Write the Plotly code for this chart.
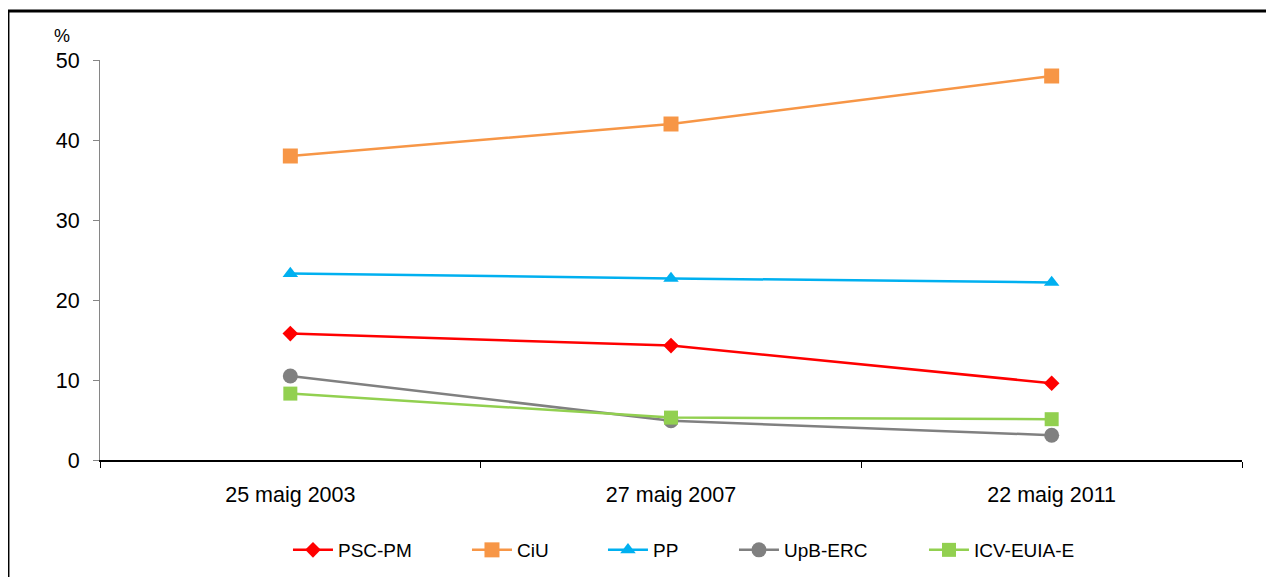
import plotly.graph_objects as go

categories = ["25 maig 2003", "27 maig 2007", "22 maig 2011"]
psc_pm = [15.8, 14.3, 9.6]
ciu = [38.0, 42.0, 48.0]
pp = [23.3, 22.7, 22.2]
upb_erc = [10.5, 4.9, 3.1]
icv_euia = [8.3, 5.3, 5.1]

# name, values, colour, symbol, marker size, legend entry width
series = [
    ("PSC-PM", psc_pm, "#FF0000", "diamond", 12, 124),
    ("CiU", ciu, "#F79646", "square", 15, 81),
    ("PP", pp, "#00B0F0", "triangle-up", 13.5, 76),
    ("UpB-ERC", upb_erc, "#808080", "circle", 15, 135),
    ("ICV-EUIA-E", icv_euia, "#92D050", "square", 14, None),
]

fig = go.Figure()
for name, vals, color, sym, size, lw in series:
    kw = {}
    if lw is not None:
        kw["legendwidth"] = lw
    fig.add_trace(go.Scatter(
        x=categories, y=vals, name=name, mode="lines+markers",
        line=dict(color=color, width=2.5),
        marker=dict(symbol=sym, size=size, color=color, line=dict(width=0)),
        **kw,
    ))

font_family = "Liberation Sans, Arial, sans-serif"
fig.update_layout(
    width=1266, height=569,
    margin=dict(l=92, r=32, t=52, b=117, autoexpand=False),
    paper_bgcolor="white", plot_bgcolor="white",
    font=dict(family=font_family, size=21, color="black"),
    showlegend=True,
    legend=dict(orientation="h", x=0.1646, xanchor="left", y=-0.225, yanchor="middle",
                font=dict(size=19, family=font_family), itemwidth=40,
                bgcolor="rgba(0,0,0,0)"),
    xaxis=dict(type="category", range=[-0.5, 2.5], showgrid=False, zeroline=False,
               showline=True, linecolor="black", linewidth=1.5,
               ticks="outside", tickson="boundaries", ticklen=6, tickcolor="black",
               tickfont=dict(size=21.5), ticklabelstandoff=14),
    yaxis=dict(range=[0, 50], dtick=10, showgrid=False, zeroline=False,
               showline=True, linecolor="#868686", linewidth=1,
               ticks="outside", ticklen=6, tickcolor="#868686",
               tickfont=dict(size=21.5), ticklabelstandoff=9),
    annotations=[dict(text="%", x=-0.033, y=1.06, xref="paper", yref="paper",
                      showarrow=False, font=dict(size=18), xanchor="center", yanchor="middle")],
    shapes=[dict(type="rect", xref="paper", yref="paper",
                 x0=-0.0806, y0=-0.6, x1=1.2, y1=1.1225,
                 line=dict(color="black", width=3), fillcolor="rgba(0,0,0,0)", layer="below")],
)

fig.write_html("out.html")
